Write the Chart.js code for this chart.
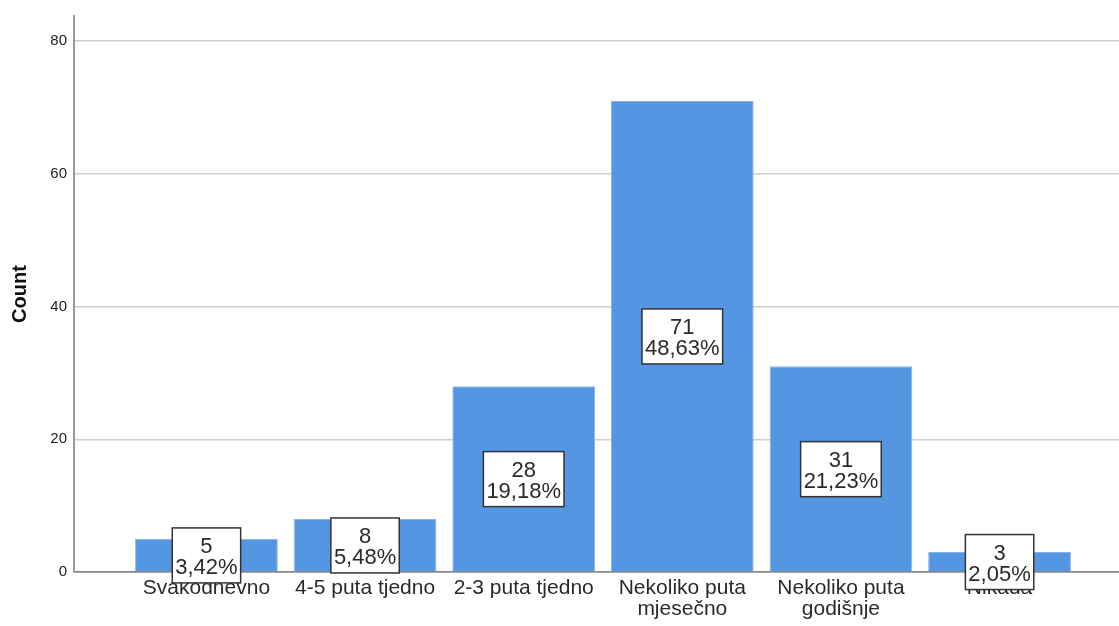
<!DOCTYPE html>
<html>
<head>
<meta charset="utf-8">
<script src="https://cdn.jsdelivr.net/npm/chart.js@4/dist/chart.umd.min.js"></script>
<style>
  html, body { margin: 0; padding: 0; background: #fff; }
  #wrap { width: 1119px; height: 626px; }
</style>
</head>
<body>
<div id="wrap"><canvas id="myChart" width="1119" height="626"></canvas></div>
<script>
var categories = [
    "Svakodnevno",
    "4-5 puta tjedno",
    "2-3 puta tjedno",
    ["Nekoliko puta", "mjesečno"],
    ["Nekoliko puta", "godišnje"],
    "Nikada"
];
var counts = [5, 8, 28, 71, 31, 3];
var yTicks = [0, 20, 40, 60, 80];

var total = counts.reduce(function (a, b) { return a + b; }, 0);

// boxes with count + percent in the middle of each bar
var boxLabels = {
    id: 'boxLabels',
    afterDraw: function (chart) {
        var ctx = chart.ctx;
        var xs = chart.scales.x, ys = chart.scales.y;
        ctx.save();
        ctx.font = '22px "Liberation Sans", Arial, sans-serif';
        counts.forEach(function (v, i) {
            var pct = (v / total * 100).toFixed(2).replace('.', ',') + '%';
            var l1 = String(v);
            var w = Math.max(ctx.measureText(l1).width, ctx.measureText(pct).width) + 6;
            var h = 55;
            var cx = xs.getPixelForValue(i);
            var cy = (ys.getPixelForValue(v) + ys.getPixelForValue(0)) / 2;
            ctx.fillStyle = '#fff';
            ctx.fillRect(cx - w / 2, cy - h / 2, w, h);
            ctx.strokeStyle = '#333';
            ctx.lineWidth = 1.5;
            ctx.strokeRect(cx - w / 2, cy - h / 2, w, h);
            ctx.fillStyle = '#2a2a2a';
            ctx.textAlign = 'center';
            ctx.textBaseline = 'alphabetic';
            ctx.fillText(l1, cx, cy - 2.5);
            ctx.fillText(pct, cx, cy + 18.5);
        });
        ctx.restore();
    }
};

new Chart(document.getElementById("myChart"), {
    type: 'bar',
    data: {
        datasets: [{
            label: "Count",
            data: counts.map(function (v, i) { return { x: i, y: v }; }),
            backgroundColor: "#5596e3",
            borderColor: "#86b3ec",
            borderWidth: 1,
            barPercentage: 1,
            categoryPercentage: 0.9
        }]
    },
    options: {
        responsive: false,
        animation: false,
        layout: { padding: { top: 14, right: 0, left: 0, bottom: 0 } },
        plugins: {
            legend: { display: false },
            tooltip: { enabled: false }
        },
        scales: {
            x: {
                type: 'linear',
                offset: false,
                min: -0.835,
                max: 5.753,
                afterFit: function (scale) { scale.height = 54; },
                grid: { display: false, drawTicks: false, offset: false },
                border: { display: true, color: '#888', width: 1.5 },
                ticks: {
                    stepSize: 1,
                    includeBounds: false,
                    autoSkip: false,
                    maxRotation: 0,
                    padding: 6,
                    color: '#2a2a2a',
                    font: { family: '"Liberation Sans", Arial, sans-serif', size: 21, lineHeight: 1.0 },
                    callback: function (value) {
                        return categories[value] !== undefined ? categories[value] : '';
                    }
                }
            },
            y: {
                min: 0,
                max: 83.8,
                afterFit: function (scale) { scale.width = 74; },
                afterBuildTicks: function (scale) {
                    scale.ticks = yTicks.map(function (v) { return { value: v }; });
                },
                grid: {
                    drawTicks: false,
                    lineWidth: 1.5,
                    color: function (c) { return c.tick && c.tick.value === 0 ? '#888' : '#cfcfcf'; }
                },
                border: { display: true, color: '#999', width: 2 },
                ticks: {
                    padding: 7,
                    color: '#222',
                    font: { family: '"Liberation Sans", Arial, sans-serif', size: 15 }
                },
                title: {
                    display: true,
                    text: 'Count',
                    color: '#111',
                    padding: { top: 8, bottom: 0 },
                    font: { family: '"Liberation Sans", Arial, sans-serif', size: 20, weight: 'bold' }
                }
            }
        }
    },
    plugins: [boxLabels]
});
</script>
</body>
</html>
